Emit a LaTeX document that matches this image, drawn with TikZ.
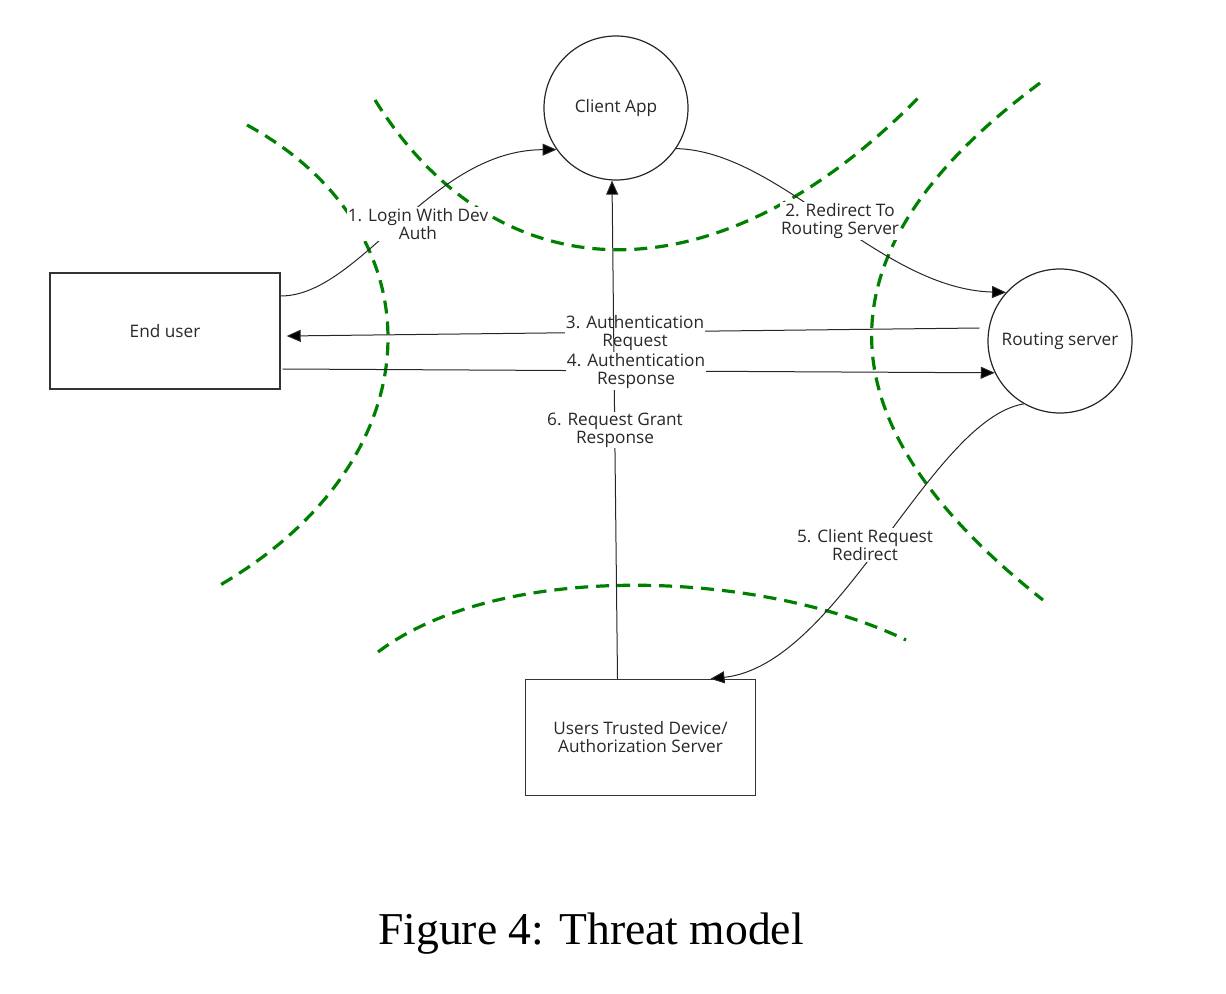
\documentclass[tikz,border=0pt]{standalone}
\usepackage{fontspec}
\setmainfont{Liberation Serif}
\newfontfamily\diagfont{Open Sans}
\usetikzlibrary{arrows.meta,calc}
\definecolor{bgreen}{RGB}{0,128,0}
\definecolor{txtgrey}{RGB}{40,40,40}
\tikzset{
  dfont/.style={font=\diagfont\fontsize{8.6}{9}\selectfont, text=txtgrey},
  box/.style={draw=black!80, line width=0.7pt, minimum width=115pt, minimum height=58pt, inner sep=0pt, align=center, dfont},
  circ/.style={circle, draw=black!85, line width=0.6pt, minimum size=72pt, inner sep=0pt, align=center, dfont},
  flow/.style={draw=black!85, line width=0.5pt},
  arr/.style={flow, -{Triangle[length=7pt,width=6pt,fill=black]}},
  lbl/.style={fill=white, inner sep=0.6pt, align=center, dfont},
  bound/.style={draw=bgreen, line width=1.6pt, dash pattern=on 6.5pt off 4pt}
}
\begin{document}
\begin{tikzpicture}[x=0.5pt,y=-0.5pt]
\useasboundingbox (0,0) rectangle (1226,994);
% trust boundaries
\draw[bound] (247,125) .. controls (440,230) and (440,460) .. (215,588);
\draw[bound] (375,100) .. controls (500,300) and (720,300) .. (918,98);
\draw[bound] (1040,83) .. controls (815,250) and (815,420) .. (1043,600);
\draw[bound] (378,652) .. controls (500,560) and (760,570) .. (906,640);
% nodes
\node[box] (eu) at (165,331) {End user};
\node[box] (td) at (640.5,737.5) {Users Trusted Device/\\Authorization Server};
\node[circ] (ca) at (616,108) {Client App};
\node[circ] (rs) at (1060,341) {Routing server};
% flows
\draw[arr] ($(eu.east)+(0,-35)$) .. controls (360,296) and (430,150) .. (ca.215);
\node[lbl] (l1) at (418,224) {1. Login With Dev\\Auth};
\draw[arr] (ca.326) .. controls (780,151) and (880,289) .. (rs.138);
\node[lbl] (l2) at (840,221) {2. Redirect To\\Routing Server};
\draw[arr] ($(rs.west)+(-8,-13)$) -- ($(eu.east)+(6,5)$);
\node[lbl] (l3) at (635,333) {3. Authentication\\Request};
\draw[arr] ($(td.north)+(-23,0)$) -- ($(ca.south)+(-4,0)$);
\node[lbl] (l6) at (615,430) {6. Request Grant\\Response};
\draw[arr] ($(eu.east)+(2,38)$) -- (rs.206);
\node[lbl] (l4) at (636,371) {4. Authentication\\Response};
\draw[arr] (rs.240) .. controls (930,420) and (840,665) .. ($(td.north)+(70,0)$);
\node[lbl] (l5) at (865,545) {5. Client Request\\Redirect};
% caption
\node[font=\fontsize{22.8}{27}\selectfont] (cap) at (591,934) {Figure 4: Threat model};
\end{tikzpicture}
\end{document}
